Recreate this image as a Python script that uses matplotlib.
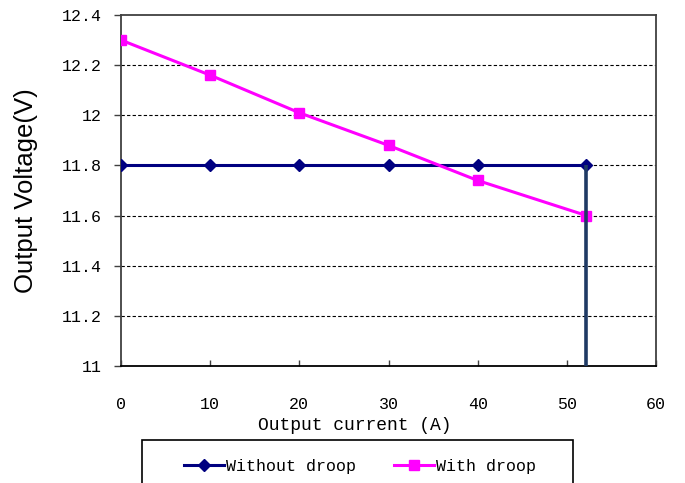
import matplotlib
matplotlib.use("Agg")
import matplotlib.pyplot as plt
from matplotlib.patches import Rectangle

current = [0, 10, 20, 30, 40, 52.2]
without_droop = [11.8, 11.8, 11.8, 11.8, 11.8, 11.8]
with_droop = [12.30, 12.16, 12.01, 11.88, 11.74, 11.60]
limit_current = 52.2
x_ticks = [0, 10, 20, 30, 40, 50, 60]
y_ticks = [11, 11.2, 11.4, 11.6, 11.8, 12, 12.2, 12.4]
y_tick_labels = ["11", "11.2", "11.4", "11.6", "11.8", "12", "12.2", "12.4"]

W, H = 685, 483
fig = plt.figure(figsize=(W / 100, H / 100), dpi=100)
ax = fig.add_axes([121 / W, 1 - 366 / H, 535 / W, 351 / H])

mono = "Liberation Mono"

for y in y_ticks[1:-1]:
    ax.axhline(y, color="black", lw=0.8, dashes=(3, 2), zorder=1)

l1, = ax.plot(current, without_droop, color="#000080", lw=2.2, marker="D",
              markersize=5.8, zorder=3, label="Without droop")
l2, = ax.plot(current, with_droop, color="#FF00FF", lw=2.2, marker="s",
              markersize=7.2, zorder=3, label="With droop")
ax.vlines(limit_current, 11, without_droop[-1], color="#1F3A64", lw=2.6,
          zorder=4, clip_on=False)

ax.set_xlim(0, 60)
ax.set_ylim(11, 12.4)
ax.set_xticks(x_ticks)
ax.set_yticks(y_ticks)
ax.set_yticklabels(y_tick_labels)
ax.tick_params(axis="x", direction="in", length=4, width=1, color="#404040",
               pad=22, labelsize=12)
ax.tick_params(axis="y", direction="out", length=5, width=1, color="#404040",
               pad=9, labelsize=12)
for lab in ax.get_xticklabels() + ax.get_yticklabels():
    lab.set_fontfamily(mono)

for s in ax.spines.values():
    s.set_color("#404040")
    s.set_linewidth(1.3)
ax.spines["bottom"].set_color("black")

ax.set_xlabel("Output current (A)", fontfamily=mono, fontsize=13, labelpad=4)
ax.xaxis.set_label_coords((355 - 121) / 535, -(425 - 366) / 351 + 0.0)
ax.xaxis.label.set_verticalalignment("center")
ax.set_ylabel("Output Voltage(V)", fontfamily="Liberation Sans", fontsize=18.5,
              labelpad=4)
ax.yaxis.set_label_coords(-(121 - 26) / 535, (366 - 191) / 351)
ax.yaxis.label.set_verticalalignment("center")

fig.patches.append(Rectangle((142 / W, 1 - 500 / H), (573 - 142) / W, 60 / H,
                             transform=fig.transFigure, fill=False,
                             edgecolor="black", lw=1.2))
fig.legend(handles=[l1, l2], loc="center left",
           bbox_to_anchor=(184 / W, 1 - 466 / H), ncol=2, frameon=False,
           borderpad=0, borderaxespad=0, handlelength=2.4, handletextpad=0.1,
           columnspacing=2.3, prop={"family": mono, "size": 12})

fig.savefig("out.png", dpi=100)
